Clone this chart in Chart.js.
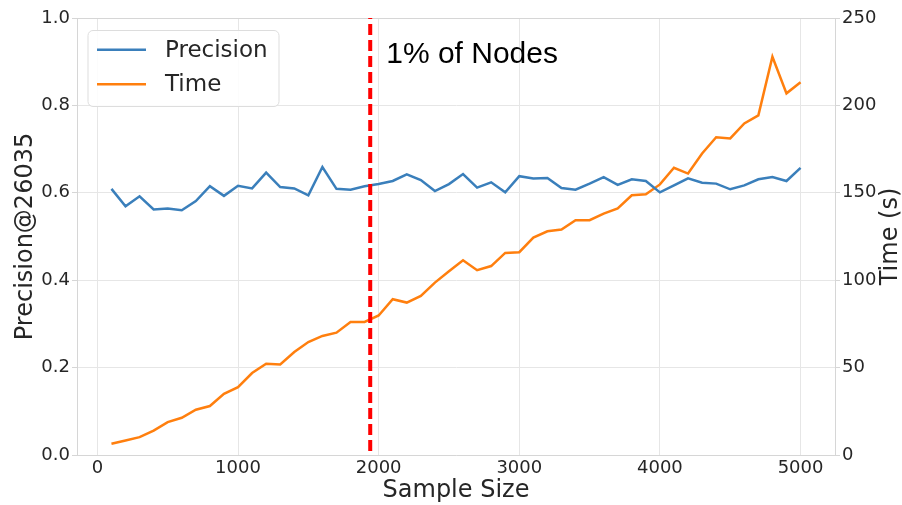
<!DOCTYPE html>
<html>
<head>
<meta charset="utf-8">
<script src="https://cdn.jsdelivr.net/npm/chart.js@4/dist/chart.umd.min.js"></script>
<style>
  html, body { margin: 0; padding: 0; background: #ffffff; }
  #wrap { width: 902px; height: 505px; position: relative; }
</style>
</head>
<body>
<div id="wrap"><canvas id="c" width="902" height="505"></canvas></div>
<script>
// ---- data ----
const sampleSizes = [100,200,300,400,500,600,700,800,900,1000,
  1100,1200,1300,1400,1500,1600,1700,1800,1900,2000,
  2100,2200,2300,2400,2500,2600,2700,2800,2900,3000,
  3100,3200,3300,3400,3500,3600,3700,3800,3900,4000,
  4100,4200,4300,4400,4500,4600,4700,4800,4900,5000];
const precision = [0.609,0.569,0.592,0.562,0.564,0.560,0.581,0.615,0.593,0.616,
  0.610,0.646,0.613,0.610,0.594,0.659,0.609,0.607,0.615,0.620,
  0.627,0.642,0.629,0.604,0.620,0.643,0.612,0.624,0.601,0.638,
  0.633,0.634,0.611,0.607,0.621,0.636,0.618,0.631,0.627,0.601,
  0.617,0.633,0.623,0.621,0.608,0.617,0.631,0.636,0.627,0.657];
const timeSec = [6.4,8.3,10.2,14.0,18.8,21.3,25.9,28.0,35.0,38.8,
  46.9,52.2,51.8,58.9,64.6,68.1,70.0,76.1,76.1,79.8,
  89.1,87.2,91.0,98.6,105.1,111.4,105.7,108.1,115.6,116.0,
  124.4,128.0,129.0,134.3,134.3,138.1,141.0,148.6,149.2,154.8,
  164.3,161.0,172.5,181.8,181.1,189.7,194.3,227.8,206.9,213.3];
const seriesLabels = ["Precision", "Time"];
const xTicks = [0,1000,2000,3000,4000,5000];
const leftTicks = [0.0,0.2,0.4,0.6,0.8,1.0];
const rightTicks = [0,50,100,150,200,250];
const markerX = 1940;
const markerText = "1% of Nodes";
const xTitle = "Sample Size";
const leftTitle = "Precision@26035";
const rightTitle = "Time (s)";

// ---- styles ----
const BLUE = "#3a7fbb";
const ORANGE = "#ff7f0e";
const GRID = "#e6e6e6";
const BORDER = "#d6d6d6";
const TXT = "#262626";
const FONT = "DejaVu Sans";

const overlay = {
  id: "overlay",
  afterDatasetsDraw(chart) {
    const ctx = chart.ctx;
    const a = chart.chartArea;
    const xs = chart.scales.x;
    ctx.save();
    // frame top
    ctx.strokeStyle = BORDER;
    ctx.lineWidth = 1;
    ctx.beginPath();
    ctx.moveTo(a.left, a.top + 0.5);
    ctx.lineTo(a.right, a.top + 0.5);
    ctx.stroke();
    // red dashed marker
    const px = xs.getPixelForValue(markerX);
    ctx.strokeStyle = "#ff0000";
    ctx.lineWidth = 4;
    ctx.setLineDash([11, 5]);
    ctx.lineDashOffset = -6;
    ctx.beginPath();
    ctx.moveTo(px, a.top);
    ctx.lineTo(px, a.bottom);
    ctx.stroke();
    ctx.setLineDash([]);
    // annotation text
    ctx.fillStyle = "#000000";
    ctx.font = "30px 'Liberation Sans'";
    ctx.textAlign = "left";
    ctx.textBaseline = "alphabetic";
    ctx.fillText(markerText, px + 16, 63);
    // legend box
    const lx = a.left + 11, ly = a.top + 12.5, lw = 191, lh = 76, r = 5;
    ctx.fillStyle = "rgba(255,255,255,0.85)";
    ctx.strokeStyle = "#dddddd";
    ctx.lineWidth = 1;
    ctx.beginPath();
    ctx.moveTo(lx + r, ly);
    ctx.arcTo(lx + lw, ly, lx + lw, ly + lh, r);
    ctx.arcTo(lx + lw, ly + lh, lx, ly + lh, r);
    ctx.arcTo(lx, ly + lh, lx, ly, r);
    ctx.arcTo(lx, ly, lx + lw, ly, r);
    ctx.closePath();
    ctx.fill();
    ctx.stroke();
    const ds = chart.data.datasets;
    const rows = [49.7, 84.3];
    ds.forEach((d, i) => {
      ctx.strokeStyle = d.borderColor;
      ctx.lineWidth = 2.5;
      ctx.beginPath();
      ctx.moveTo(97, rows[i]);
      ctx.lineTo(146, rows[i]);
      ctx.stroke();
      ctx.fillStyle = TXT;
      ctx.font = "23px '" + FONT + "'";
      ctx.textBaseline = "middle";
      ctx.fillText(d.label, 165, rows[i] + 1);
    });
    // right axis title (reads bottom to top)
    ctx.save();
    ctx.translate(891, (a.top + a.bottom) / 2);
    ctx.rotate(-Math.PI / 2);
    ctx.fillStyle = TXT;
    ctx.font = "24px '" + FONT + "'";
    ctx.textAlign = "center";
    ctx.textBaseline = "middle";
    ctx.fillText(rightTitle, 0, 0);
    ctx.restore();
    ctx.restore();
  }
};

new Chart(document.getElementById("c"), {
  type: "line",
  data: {
    datasets: [
      {
        label: seriesLabels[0],
        data: sampleSizes.map((s, i) => ({ x: s, y: precision[i] })),
        borderColor: BLUE,
        backgroundColor: BLUE,
        borderWidth: 2.5,
        pointRadius: 0,
        tension: 0,
        yAxisID: "y"
      },
      {
        label: seriesLabels[1],
        data: sampleSizes.map((s, i) => ({ x: s, y: timeSec[i] })),
        borderColor: ORANGE,
        backgroundColor: ORANGE,
        borderWidth: 2.5,
        pointRadius: 0,
        tension: 0,
        yAxisID: "y1"
      }
    ]
  },
  options: {
    responsive: false,
    animation: false,
    events: [],
    layout: { padding: { top: 18, left: 0, right: 0, bottom: 0 } },
    plugins: { legend: { display: false }, tooltip: { enabled: false } },
    scales: {
      x: {
        type: "linear",
        min: -145,
        max: 5245,
        afterBuildTicks: (s) => { s.ticks = xTicks.map(v => ({ value: v })); },
        afterFit: (s) => { s.height = 50; },
        ticks: {
          color: TXT,
          font: { family: FONT, size: 18 },
          padding: 3,
          maxRotation: 0,
          callback: (v) => String(v)
        },
        grid: { color: GRID, lineWidth: 1, drawTicks: false },
        border: { color: BORDER, width: 1 },
        title: {
          display: true,
          text: xTitle,
          color: TXT,
          font: { family: FONT, size: 24 },
          padding: { top: 0, bottom: 0 }
        }
      },
      y: {
        type: "linear",
        position: "left",
        min: 0,
        max: 1,
        afterBuildTicks: (s) => { s.ticks = leftTicks.map(v => ({ value: v })); },
        afterFit: (s) => { s.width = 77; },
        ticks: {
          color: TXT,
          font: { family: FONT, size: 18 },
          padding: 2,
          callback: (v) => Number(v).toFixed(1)
        },
        grid: { color: GRID, lineWidth: 1, tickLength: 5, tickColor: BORDER },
        border: { color: BORDER, width: 1 },
        title: {
          display: true,
          text: leftTitle,
          color: TXT,
          font: { family: FONT, size: 24 },
          padding: { top: 11, bottom: 0 }
        }
      },
      y1: {
        type: "linear",
        position: "right",
        min: 0,
        max: 250,
        afterBuildTicks: (s) => { s.ticks = rightTicks.map(v => ({ value: v })); },
        afterFit: (s) => { s.width = 67; },
        ticks: {
          color: TXT,
          font: { family: FONT, size: 18 },
          padding: 2,
          callback: (v) => String(v)
        },
        grid: { drawOnChartArea: false, tickLength: 5, tickColor: BORDER },
        border: { color: BORDER, width: 1 }
      }
    }
  },
  plugins: [overlay]
});
</script>
</body>
</html>
